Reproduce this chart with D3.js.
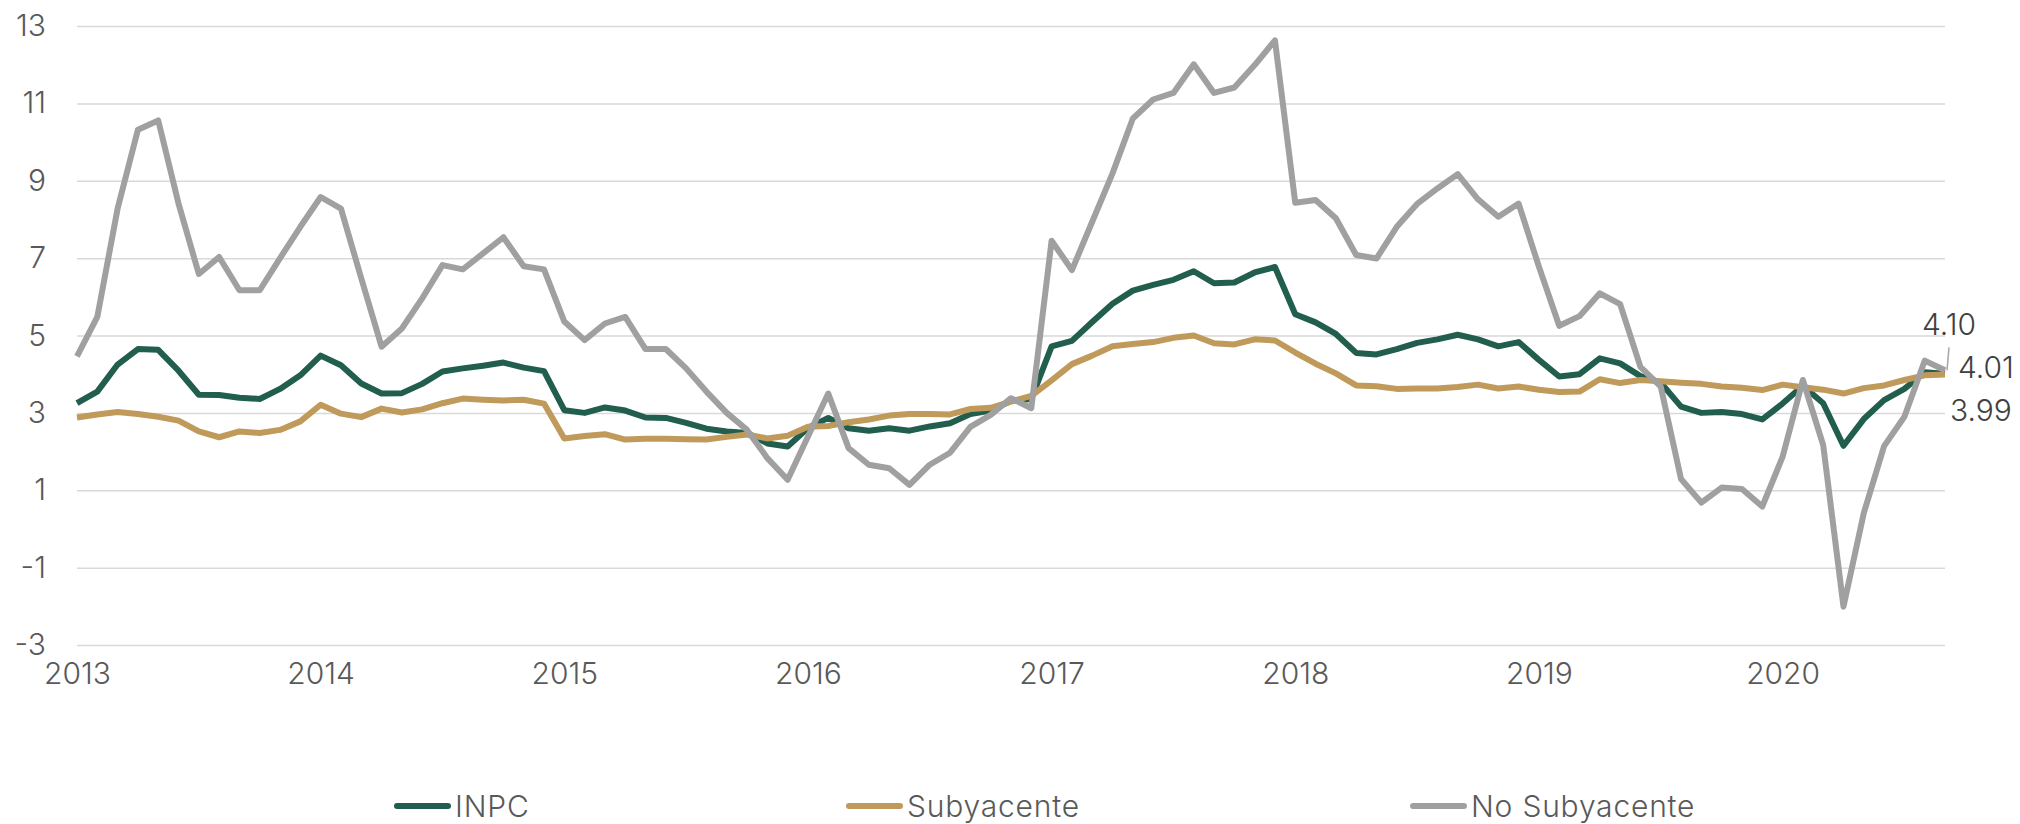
<!DOCTYPE html>
<html>
<head>
<meta charset="utf-8">
<script src="https://cdn.jsdelivr.net/npm/d3@7"></script>
<style>
  body { margin: 0; background: #fff; }
  .chart text { font-family: Inter, "Noto Sans", sans-serif; font-weight: 300; }
</style>
</head>
<body>
<div class="chart"></div>
<script>
// Chart data: monthly annual inflation, Jan 2013 - Sep 2020
var years = ["2013", "2014", "2015", "2016", "2017", "2018", "2019", "2020"];
var yTicks = [-3, -1, 1, 3, 5, 7, 9, 11, 13];
var seriesNames = ["INPC", "Subyacente", "No Subyacente"];

var inpc = [
  3.25, 3.55, 4.25, 4.65, 4.63, 4.09, 3.47, 3.46, 3.39, 3.36, 3.62, 3.97,
  4.48, 4.23, 3.76, 3.50, 3.51, 3.75, 4.07, 4.15, 4.22, 4.30, 4.17, 4.08,
  3.07, 3.00, 3.14, 3.06, 2.88, 2.87, 2.74, 2.59, 2.52, 2.48, 2.21, 2.13,
  2.61, 2.87, 2.60, 2.54, 2.60, 2.54, 2.65, 2.73, 2.97, 3.06, 3.31, 3.36,
  4.72, 4.86, 5.35, 5.82, 6.16, 6.31, 6.44, 6.66, 6.35, 6.37, 6.63, 6.77,
  5.55, 5.34, 5.04, 4.55, 4.51, 4.65, 4.81, 4.90, 5.02, 4.90, 4.72, 4.83,
  4.37, 3.94, 4.00, 4.41, 4.28, 3.95, 3.78, 3.16, 3.00, 3.02, 2.97, 2.83,
  3.24, 3.70, 3.25, 2.15, 2.84, 3.33, 3.62, 4.05, 4.01
];

var subyacente = [
  2.88, 2.96, 3.02, 2.97, 2.90, 2.80, 2.52, 2.37, 2.52, 2.48, 2.56, 2.78,
  3.21, 2.98, 2.89, 3.11, 3.01, 3.09, 3.25, 3.37, 3.34, 3.32, 3.34, 3.24,
  2.34, 2.40, 2.45, 2.31, 2.33, 2.33, 2.32, 2.31, 2.38, 2.44, 2.34, 2.41,
  2.64, 2.66, 2.76, 2.83, 2.93, 2.97, 2.97, 2.96, 3.10, 3.13, 3.29, 3.44,
  3.84, 4.26, 4.48, 4.72, 4.78, 4.83, 4.94, 5.00, 4.80, 4.77, 4.90, 4.87,
  4.56, 4.27, 4.02, 3.71, 3.69, 3.62, 3.63, 3.63, 3.67, 3.73, 3.63, 3.68,
  3.60, 3.54, 3.55, 3.87, 3.77, 3.85, 3.82, 3.78, 3.75, 3.68, 3.65, 3.59,
  3.73, 3.66, 3.60, 3.50, 3.64, 3.71, 3.85, 3.97, 3.99
];

var noSubyacente = [
  4.46, 5.48, 8.28, 10.32, 10.56, 8.41, 6.59, 7.03, 6.17, 6.17, 7.00, 7.81,
  8.58, 8.28, 6.48, 4.71, 5.18, 5.96, 6.82, 6.71, 7.12, 7.54, 6.79, 6.71,
  5.36, 4.88, 5.31, 5.48, 4.65, 4.65, 4.15, 3.55, 3.00, 2.56, 1.83, 1.27,
  2.39, 3.50, 2.09, 1.66, 1.57, 1.14, 1.66, 1.97, 2.64, 2.95, 3.38, 3.12,
  7.45, 6.69, 7.94, 9.19, 10.61, 11.10, 11.27, 12.01, 11.27, 11.41, 11.99, 12.63,
  8.43, 8.50, 8.03, 7.08, 6.99, 7.81, 8.40, 8.80, 9.17, 8.52, 8.07, 8.41,
  6.78, 5.25, 5.50, 6.09, 5.81, 4.19, 3.68, 1.29, 0.68, 1.07, 1.03, 0.58,
  1.86, 3.85, 2.17, -2.01, 0.41, 2.14, 2.90, 4.35, 4.10
];

var colors = ["#215e4e", "#bf9a5a", "#a0a0a0"];

// Define SVG area dimensions
var svgWidth = 2020;
var svgHeight = 824;

var margin = { top: 26, right: 75, bottom: 179, left: 77 };
var width = svgWidth - margin.left - margin.right;
var height = svgHeight - margin.top - margin.bottom;

var svg = d3.select(".chart")
  .append("svg")
  .attr("width", svgWidth)
  .attr("height", svgHeight);

var chartGroup = svg.append("g")
  .attr("transform", `translate(${margin.left}, ${margin.top})`);

// Scales
var xScale = d3.scaleLinear()
  .domain([0, inpc.length - 1])
  .range([0, width]);

var yScale = d3.scaleLinear()
  .domain([-3, 13])
  .range([height, 0]);

// Y axis with gridlines (plain hyphen for negatives, like the original)
var leftAxis = d3.axisLeft(yScale)
  .tickValues(yTicks)
  .tickSize(-width)
  .tickPadding(31)
  .tickFormat(d => String(d));

var yAxisG = chartGroup.append("g").call(leftAxis);
yAxisG.select(".domain").remove();
yAxisG.selectAll("line")
  .attr("stroke", "#d9d9d9")
  .attr("stroke-width", 1.5);
yAxisG.selectAll("text")
  .attr("fill", "#595959")
  .style("font-size", "30px");

// X axis: one label each January
var bottomAxis = d3.axisBottom(xScale)
  .tickValues(years.map((y, i) => i * 12))
  .tickSize(0)
  .tickPadding(18)
  .tickFormat((d, i) => years[i]);

var xAxisG = chartGroup.append("g")
  .attr("transform", `translate(0, ${height})`)
  .call(bottomAxis);
xAxisG.select(".domain").remove();
xAxisG.selectAll("text")
  .attr("fill", "#595959")
  .style("font-size", "30px");

// Lines
var line = d3.line()
  .x((d, i) => xScale(i))
  .y(d => yScale(d));

[inpc, subyacente, noSubyacente].forEach(function (series, k) {
  chartGroup.append("path")
    .datum(series)
    .attr("fill", "none")
    .attr("stroke", colors[k])
    .attr("stroke-width", 6)
    .attr("stroke-linejoin", "round")
    .attr("d", line);
});

// End labels
var last = inpc.length - 1;
var lx = xScale(last);

chartGroup.append("line")
  .attr("x1", lx + 4).attr("y1", yScale(noSubyacente[last]) - 23)
  .attr("x2", lx + 2).attr("y2", yScale(noSubyacente[last]))
  .attr("stroke", "#a6a6a6")
  .attr("stroke-width", 1.5);

var endLabels = [
  { v: noSubyacente[last], dx: 4, dy: -35, anchor: "middle" },
  { v: inpc[last], dx: 13, dy: 4, anchor: "start" },
  { v: subyacente[last], dx: 5, dy: 46, anchor: "start" }
];

chartGroup.selectAll(".endLabel")
  .data(endLabels)
  .enter()
  .append("text")
  .attr("class", "endLabel")
  .attr("x", d => lx + d.dx)
  .attr("y", d => yScale(d.v) + d.dy)
  .attr("text-anchor", d => d.anchor)
  .attr("fill", "#404040")
  .style("font-size", "30px")
  .text(d => d.v.toFixed(2));

// Legend
var legendX = [394, 846, 1410];
var legend = svg.append("g");
seriesNames.forEach(function (name, k) {
  legend.append("line")
    .attr("x1", legendX[k] + 3).attr("x2", legendX[k] + 54)
    .attr("y1", 806).attr("y2", 806)
    .attr("stroke", colors[k])
    .attr("stroke-width", 6)
    .attr("stroke-linecap", "round");
  legend.append("text")
    .attr("x", legendX[k] + 61)
    .attr("y", 817)
    .attr("fill", "#595959")
    .style("font-size", "30px")
    .style("letter-spacing", "0.8px")
    .text(name);
});
</script>
</body>
</html>
